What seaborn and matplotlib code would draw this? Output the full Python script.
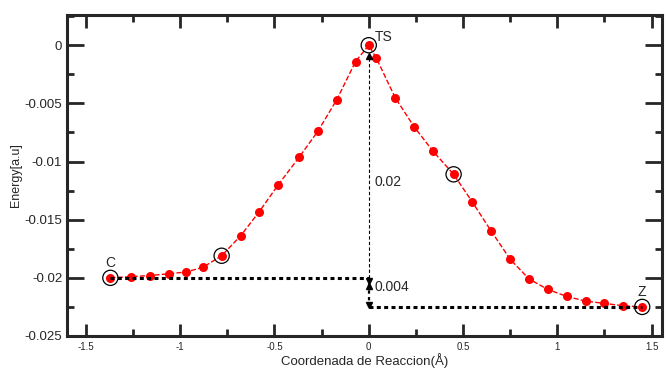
import numpy as np
import pandas as pd
import matplotlib
matplotlib.use('Agg')
import matplotlib.pyplot as plt
import seaborn as sns

# Coordenada de reaccion (Å) y energia relativa (a.u)
coord = [-1.37, -1.26, -1.16, -1.06, -0.97, -0.88, -0.78, -0.68, -0.58, -0.48,
         -0.37, -0.27, -0.17, -0.07, 0.00, 0.04, 0.14, 0.24, 0.34, 0.45,
         0.55, 0.65, 0.75, 0.85, 0.95, 1.05, 1.15, 1.25, 1.35, 1.45]
energy = [-0.0200, -0.0199, -0.0198, -0.01965, -0.0195, -0.0191, -0.0181, -0.0164, -0.0143, -0.0120,
          -0.00965, -0.0074, -0.0047, -0.0014, 0.0000, -0.0011, -0.0045, -0.0070, -0.0091, -0.0111,
          -0.0135, -0.0160, -0.0184, -0.0201, -0.0210, -0.0216, -0.0220, -0.0222, -0.0224, -0.0225]

# Puntos destacados (C, intermedio, TS, intermedio, Z)
marked_idx = [0, 6, 14, 19, 29]
point_labels = {0: 'C', 14: 'TS', 29: 'Z'}
barrier_label = '0.02'
delta_label = '0.004'

xticks = [-1.5, -1, -0.5, 0, 0.5, 1, 1.5]
yticks = [0, -0.005, -0.01, -0.015, -0.02, -0.025]

df = pd.DataFrame({'coord': coord, 'energy': energy})
marked = df.iloc[marked_idx]

sns.set_style('ticks')
plt.rcParams['font.family'] = ['Liberation Sans', 'DejaVu Sans']
plt.rcParams['axes.unicode_minus'] = False

fig = plt.figure(figsize=(6.66, 3.70), dpi=100)
ax = fig.add_axes([0.1006, 0.0919, 0.8934, 0.8676])

sns.lineplot(data=df, x='coord', y='energy', sort=False, ax=ax, color='red',
             linestyle='--', linewidth=1, marker='o', markersize=6.5,
             markeredgecolor='red', markeredgewidth=0)
sns.scatterplot(data=marked, x='coord', y='energy', ax=ax, s=120,
                facecolor='none', edgecolor='black', linewidth=0.9, zorder=5)

c_x, c_y = coord[0], energy[0]
ts_x, ts_y = coord[14], energy[14]
z_x, z_y = coord[-1], energy[-1]

# lineas horizontales punteadas
ax.plot([c_x, ts_x], [c_y, c_y], color='black', linestyle=(0, (1.3, 1.1)), linewidth=2.2, zorder=2)
ax.plot([ts_x, z_x], [z_y, z_y], color='black', linestyle=(0, (1.3, 1.1)), linewidth=2.2, zorder=2)

# flechas verticales
ax.plot([ts_x, ts_x], [c_y, ts_y - 0.0009], color='black', linestyle=(0, (3, 2)), linewidth=0.8)
ax.plot([ts_x, ts_x], [z_y, c_y], color='black', linestyle=(0, (1.5, 1.5)), linewidth=1.6)
ax.plot([ts_x], [ts_y - 0.0009], marker='^', color='black', markersize=5)
ax.plot([ts_x], [c_y - 0.0003], marker='v', color='black', markersize=5)
ax.plot([ts_x], [c_y - 0.0007], marker='^', color='black', markersize=5)
ax.plot([ts_x], [z_y + 0.0002], marker='v', color='black', markersize=4)

ax.text(ts_x + 0.03, ts_y + 0.0004, point_labels[14], fontsize=10)
ax.text(c_x, c_y + 0.0009, point_labels[0], fontsize=10, ha='center')
ax.text(z_x, z_y + 0.0009, point_labels[29], fontsize=10, ha='center')
ax.text(ts_x + 0.03, -0.0121, barrier_label, fontsize=10)
ax.text(ts_x + 0.03, -0.0211, delta_label, fontsize=10)

ax.set_xlim(-1.6, 1.555)
ax.set_ylim(-0.025, 0.0026)
ax.set_xticks(xticks)
ax.set_xticklabels([f'{t:g}' for t in xticks], fontsize=7)
ax.set_yticks(yticks)
ax.set_yticklabels([f'{t:g}' for t in yticks], fontsize=9.5)
ax.set_xticks(np.arange(-1.5, 1.6, 0.25), minor=True)
ax.set_yticks(np.arange(-0.025, 0.0026, 0.0025), minor=True)
ax.tick_params(which='both', direction='in', top=True, right=True, width=2)
ax.tick_params(which='major', length=9)
ax.tick_params(which='minor', length=5)
ax.tick_params(axis='y', which='major', length=12)
ax.tick_params(axis='x', which='major', pad=4)
for s in ax.spines.values():
    s.set_linewidth(2.2)

ax.set_xlabel('Coordenada de Reaccion(Å)', fontsize=9.5, labelpad=1)
ax.set_ylabel('Energy[a.u]', fontsize=9, labelpad=2)

fig.savefig('out.png', dpi=100)
